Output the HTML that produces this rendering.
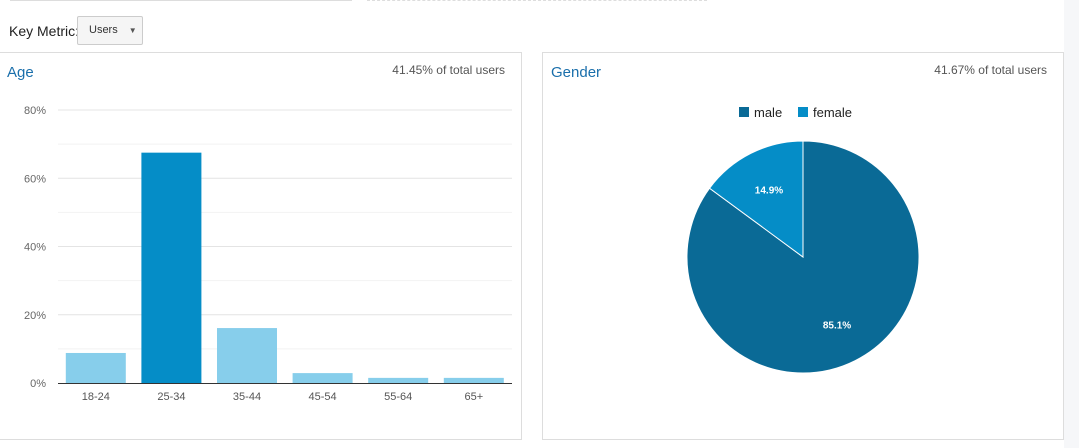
<!DOCTYPE html>
<html><head><meta charset="utf-8"><style>
body{margin:0;width:1079px;height:448px;background:#fff;font-family:"Liberation Sans",sans-serif;position:relative;overflow:hidden}
.abs{position:absolute}
</style></head><body>
<div class="abs" style="left:10px;top:0;width:342px;height:1px;background:#ddd"></div>
<div class="abs" style="left:367px;top:0;width:340px;border-top:1px dashed #ddd"></div>
<div class="abs" style="left:9px;top:23px;font-size:14px;color:#222">Key Metric:</div>
<div class="abs" style="left:77px;top:16px;width:66px;height:29px;border:1px solid #ccc;border-radius:2px;background:#f5f5f5;font-size:11px;color:#333;box-sizing:border-box;line-height:27px;padding-left:11px">Users <span style="font-size:8px;margin-left:8px;color:#555">▼</span></div>
<div class="abs" style="left:1064px;top:0;width:15px;height:448px;background:#f6f7f9"></div>

<div class="abs" style="left:0;top:52px;width:522px;height:388px;border:1px solid #ddd;box-sizing:border-box;border-left:none">
<div class="abs" style="left:7px;top:11px;font-size:15px;color:#1a6fab">Age</div>
<div class="abs" style="right:16px;top:10px;font-size:12px;color:#555">41.45% of total users</div>
</div>
<svg class="abs" style="left:0;top:0" width="530" height="448" id="age"></svg>

<div class="abs" style="left:542px;top:52px;width:522px;height:388px;border:1px solid #ddd;box-sizing:border-box">
<div class="abs" style="left:8px;top:11px;font-size:15px;color:#1a6fab">Gender</div>
<div class="abs" style="right:16px;top:10px;font-size:12px;color:#555">41.67% of total users</div>
</div>
<svg class="abs" style="left:542px;top:52px" width="522" height="388" id="gender"></svg>

<script>
const ageCategories=["18-24","25-34","35-44","45-54","55-64","65+"];
const ageValues=[8.8,67.5,16.1,2.9,1.5,1.5];
const ageTicks=[0,20,40,60,80];
const genderLabels=["male","female"];
const genderValues=[85.1,14.9];
const NS="http://www.w3.org/2000/svg";
function mk(p,t,a){const e=document.createElementNS(NS,t);for(const k in a)e.setAttribute(k,a[k]);p.appendChild(e);return e;}
const age=document.getElementById('age');
const y=v=>383-v*(273/80);
const bw=75.6,x0=58;
const x=i=>x0+bw*i+bw/2;
for(let v=10;v<=80;v+=10){
 const g=mk(age,'line',{x1:58,x2:512,y1:y(v),y2:y(v),stroke:v%20?'#f2f2f2':'#e4e4e4'});
 
 
}
ageTicks.forEach(v=>{const t=mk(age,'text',{x:46,y:y(v)+4,'text-anchor':'end','font-size':11,fill:'#666'});t.textContent=v+'%';
 
 });
ageValues.forEach((v,i)=>{
 const r=mk(age,'rect',{x:x(i)-30,y:y(v),width:60,height:y(0)-y(v),fill:i==1?'#058dc7':'#87ceeb'});
 
 
 const t=mk(age,'text',{x:x(i),y:400,'text-anchor':'middle','font-size':11,fill:'#555'});t.textContent=ageCategories[i];
 
 
});
const ax=mk(age,'line',{x1:58,x2:512,y1:383.5,y2:383.5,stroke:'#333'});



const gs=document.getElementById('gender');
const cx=261,cy=205,R=116,cols=['#0a6a96','#058dc7'];
const total=genderValues.reduce((a,b)=>a+b,0);
let ang=0;
genderValues.forEach((v,i)=>{
 const a0=ang,a1=ang+v/total*2*Math.PI;ang=a1;
 const p=a=>[cx+R*Math.sin(a),cy-R*Math.cos(a)];
 const [sx,sy]=p(a0),[ex,ey]=p(a1);
 const s=mk(gs,'path',{d:`M${cx},${cy}L${sx},${sy}A${R},${R} 0 ${a1-a0>Math.PI?1:0} 1 ${ex},${ey}Z`,fill:cols[i],stroke:'#fff','stroke-width':1});
 
 
 const m=(a0+a1)/2,lr=R*0.65;
 const t=mk(gs,'text',{x:cx+lr*Math.sin(m),y:cy-lr*Math.cos(m)+4,'text-anchor':'middle','font-size':10,'font-weight':'bold',fill:'#fff'});
 t.textContent=v.toFixed(1)+'%';
 
 
});
genderLabels.forEach((l,i)=>{
 const lx=[197,256][i];
 const r=mk(gs,'rect',{x:lx,y:55,width:10,height:10,fill:cols[i]});
 
 
 const t=mk(gs,'text',{x:lx+15,y:65,'font-size':13,fill:'#222'});t.textContent=l;
 
 
});
</script>
</body></html>
